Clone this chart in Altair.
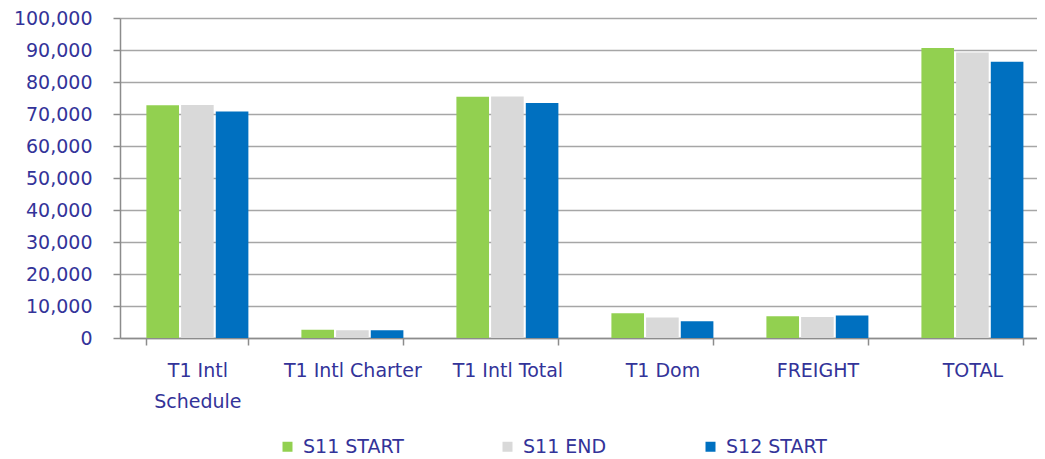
import altair as alt
import pandas as pd

categories = ["T1 Intl Schedule", "T1 Intl Charter", "T1 Intl Total", "T1 Dom", "FREIGHT", "TOTAL"]
series = ["S11 START", "S11 END", "S12 START"]
s11_start = [72700, 2600, 75400, 7700, 6800, 90600]
s11_end = [72800, 2400, 75500, 6400, 6600, 89200]
s12_start = [70800, 2400, 73400, 5200, 7000, 86300]
colors = ["#92D050", "#D9D9D9", "#0070C0"]

rows = []
for i, c in enumerate(categories):
    for s, vals in zip(series, [s11_start, s11_end, s12_start]):
        rows.append({"category": c, "series": s, "value": vals[i]})
df = pd.DataFrame(rows)

text_color = "#333399"
font = "DejaVu Sans"

chart = alt.Chart(df).mark_bar().encode(
    x=alt.X("category:N", sort=categories, title=None,
            scale=alt.Scale(paddingInner=0.342, paddingOuter=0.129, align=0.66),
            axis=alt.Axis(labelAngle=0, tickBand="extent", tickSize=7,
                          labelExpr="datum.value == 'T1 Intl Schedule' ? ['T1 Intl', 'Schedule'] : datum.value",
                          labelLineHeight=31, labelPadding=16)),
    xOffset=alt.XOffset("series:N", sort=series, scale=alt.Scale(paddingInner=0.06)),
    y=alt.Y("value:Q", title=None,
            scale=alt.Scale(domain=[0, 100000], nice=False),
            axis=alt.Axis(values=list(range(0, 100001, 10000)), format=",.0f", tickSize=7,
                          labelPadding=21)),
    color=alt.Color("series:N", sort=series, title=None,
                    scale=alt.Scale(domain=series, range=colors),
                    legend=alt.Legend(orient="none", legendX=158, legendY=419, direction="horizontal",
                                      symbolType="square", symbolSize=100, symbolStrokeWidth=0,
                                      columnPadding=94, labelOffset=6,
                                      labelFontSize=19, labelColor=text_color, labelFont=font)),
).properties(
    width=917, height=320,
    autosize=alt.AutoSizeParams(type="none"),
    padding={"left": 112, "top": 10, "right": 0, "bottom": 121},
).configure_axis(
    labelFont=font, labelFontSize=19, labelColor=text_color,
    domainColor="#8C8C8C", tickColor="#8C8C8C", domainWidth=1.5, tickWidth=1.5,
    gridColor="#A6A6A6", gridWidth=1.5,
).configure_axisX(grid=False).configure_view(stroke=None)

chart.save("out.html", embed_options={"renderer": "svg", "actions": False})
